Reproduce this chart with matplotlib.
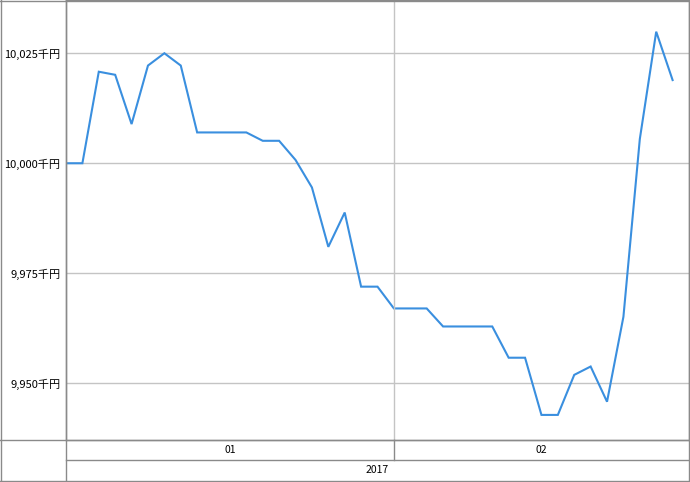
import matplotlib
matplotlib.use("Agg")
import matplotlib.pyplot as plt
from matplotlib.lines import Line2D
import matplotlib.transforms as mtransforms

plt.rcParams['font.family'] = ['Noto Sans CJK JP', 'DejaVu Sans']

# daily values (thousand yen), Jan-Feb 2017
values = [10000.0, 10000.0, 10020.8, 10020.1, 10008.9, 10022.2, 10025.0, 10022.2,
          10007.0, 10007.0, 10007.0, 10007.0, 10005.1, 10005.1, 10000.75, 9994.5,
          9981.0, 9988.8, 9971.95, 9971.95,
          9967.0, 9967.0, 9967.0, 9962.9, 9962.9, 9962.9, 9962.9, 9955.8,
          9955.8, 9942.8, 9942.8, 9951.9, 9953.8, 9945.8, 9965.1, 10005.5,
          10029.9, 10018.9]
months = ['01', '02']
month_start = [0, 20]
year_label = '2017'
yticks = [9950, 9975, 10000, 10025]

W, H = 690, 482
grid_c = '#c4c4c4'
border_c = '#8a8a8a'
line_c = '#3a8fdf'

fig = plt.figure(figsize=(W / 100, H / 100), dpi=100)
ax = fig.add_axes([66 / W, 42 / H, 623 / W, 440 / H])

x = list(range(len(values)))
ax.plot(x, values, color=line_c, lw=1.5, solid_joinstyle='miter')

ax.set_xlim(0, 38)
ax.set_ylim(9937.1, 10037.1)
ax.set_yticks(yticks)
ax.set_yticklabels([f"{v:,}千円" for v in yticks], fontsize=8)
ax.set_xticks([])
ax.tick_params(axis='y', length=0, pad=4)
ax.grid(axis='y', color=grid_c, lw=1)
ax.axvline(month_start[1], color=grid_c, lw=1)
for s in ax.spines.values():
    s.set_color(border_c)
    s.set_linewidth(1)

# month / year header rows below the plot
trans = mtransforms.blended_transform_factory(ax.transData, ax.transAxes)
row = 20 / 440
ends = month_start[1:] + [38]
for m, a, b in zip(months, month_start, ends):
    ax.text((a + b) / 2, -row / 2, m, transform=trans, ha='center', va='center', fontsize=7.5)
ax.add_artist(Line2D([month_start[1], month_start[1]], [0, -row], transform=trans,
                     color=border_c, lw=1, clip_on=False))
ax.text(19, -row * 1.5, year_label, transform=trans, ha='center', va='center', fontsize=7.5)


def hline(y, x0, x1):
    fig.add_artist(Line2D([x0 / W, x1 / W], [1 - y / H, 1 - y / H], color=border_c, lw=1))


def vline(xp, y0, y1):
    fig.add_artist(Line2D([xp / W, xp / W], [1 - y0 / H, 1 - y1 / H], color=border_c, lw=1))


hline(0.5, 0, 689)
hline(440, 0, 689)
hline(460, 66, 689)
hline(480.5, 0, 689)
vline(0.5, 0, 480.5)
vline(66, 0, 480.5)
vline(689, 0, 480.5)

fig.savefig('out.png', dpi=100)
